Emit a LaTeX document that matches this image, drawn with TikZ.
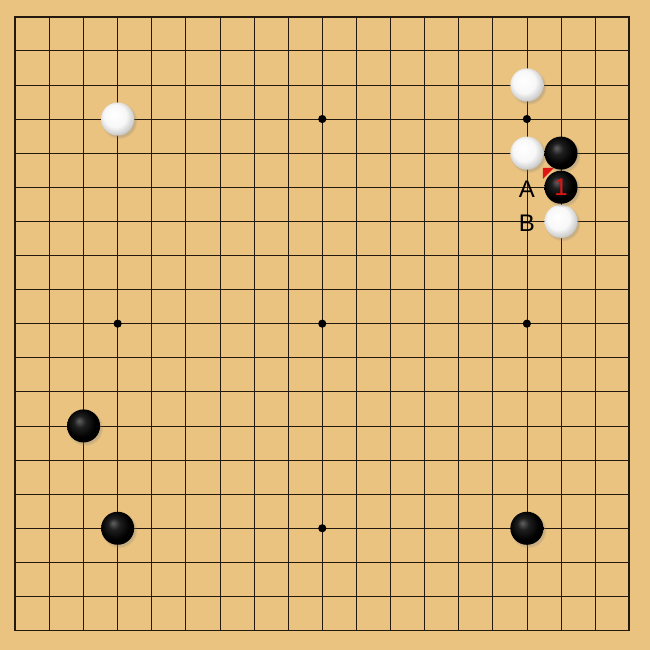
\documentclass[tikz,border=0pt]{standalone}
\usepackage{fontspec}
\setmainfont{Liberation Sans}
\usetikzlibrary{shadows}
\definecolor{board}{RGB}{234,195,128}
\definecolor{gridline}{RGB}{35,25,15}
\definecolor{lastmove}{RGB}{225,20,20}
\pgfdeclareradialshading{blackstone}{\pgfpoint{-7bp}{8bp}}{color(0bp)=(black!62); color(9bp)=(black!88); color(22bp)=(black); color(50bp)=(black)}
\pgfdeclareradialshading{whitestone}{\pgfpoint{-6bp}{7bp}}{color(0bp)=(white); color(17bp)=(white!97!black); color(30bp)=(black!25); color(50bp)=(black!25)}

\begin{document}
\begin{tikzpicture}[x=1cm,y=-1cm]
	\tikzstyle{stone}=[circle,inner sep=0pt,minimum size=0.97cm,circular drop shadow={shadow xshift=0.04cm,shadow yshift=-0.05cm,opacity=0.3}]
	\tikzstyle{black stone}=[stone,shading=blackstone]
	\tikzstyle{white stone}=[stone,shading=whitestone]
	\tikzstyle{hoshi}=[circle,fill=black,inner sep=0pt,minimum size=0.24cm]
	\tikzstyle{boardlabel}=[font=\fontsize{20}{20}\selectfont,inner sep=0pt]
	
	\fill[board] (-0.45,-0.49) rectangle (18.61,18.57);
	\foreach \i in {1,...,17} {
		\draw[gridline,line width=0.65pt] (\i,0) -- (\i,18);
		\draw[gridline,line width=0.65pt] (0,\i) -- (18,\i);
	}
	\draw[gridline,line width=1.5pt] (0,0) rectangle (18,18);
	
	\foreach \x/\y in {9/3,15/3,3/9,9/9,15/9,9/15}
		\node[hoshi] (h-\x-\y) at (\x,\y) {};
	
	\coordinate (last) at (16,5);
	\fill[lastmove] ([shift={(-0.53,-0.57)}]last) -- ([shift={(-0.2,-0.57)}]last) -- ([shift={(-0.53,-0.24)}]last) -- cycle;
	
	\foreach \x/\y [count=\n] in {15/2,3/3,15/4,16/6}
		\node[white stone] (w\n) at (\x,\y) {};
	\foreach \x/\y [count=\n] in {16/4,2/12,3/15,15/15}
		\node[black stone] (b\n) at (\x,\y) {};
	\node[black stone,boardlabel,text=lastmove] (b5) at (last) {1};
	
	\node[boardlabel] (A) at (15,5.05) {A};
	\node[boardlabel] (B) at (15,6.05) {B};
\end{tikzpicture}
\end{document}
